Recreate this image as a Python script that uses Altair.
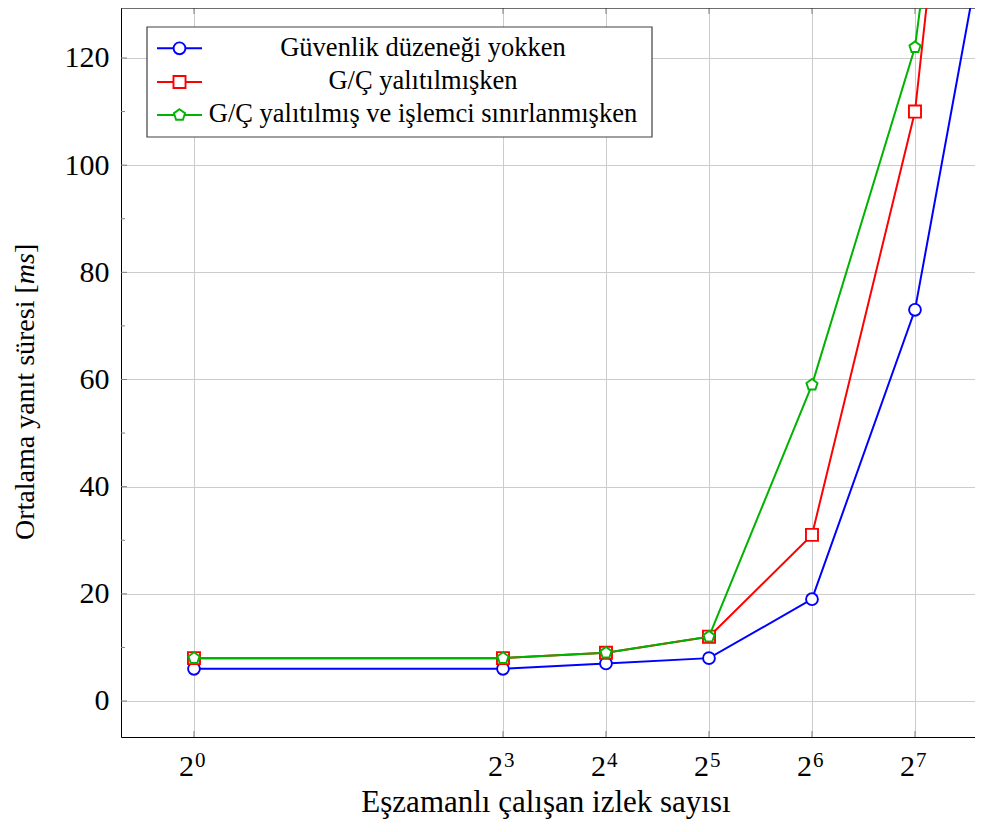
import altair as alt
import pandas as pd

# ---------------- data ----------------
threads = [1, 8, 16, 32, 64, 128, 256]
no_security = [6, 6, 7, 8, 19, 73, 178]
io_isolated = [8, 8, 9, 12, 31, 110, 285]
io_cpu_limited = [8, 8, 9, 12, 59, 122, 270]
series_names = [
    "Güvenlik düzeneği yokken",
    "G/Ç yalıtılmışken",
    "G/Ç yalıtılmış ve işlemci sınırlanmışken",
]
series_values = [no_security, io_isolated, io_cpu_limited]
series_colors = ["#0000ff", "#ff0000", "#00b300"]
x_tick_values = [1, 8, 16, 32, 64, 128]
x_tick_exponents = ["0", "3", "4", "5", "6", "7"]
y_major = [0, 20, 40, 60, 80, 100, 120]
y_minor = [10, 30, 50, 70, 90, 110]
x_title = "Eşzamanlı çalışan izlek sayısı"
y_title_parts = ["Ortalama yanıt süresi [", "ms", "]"]

PENTAGON = "M0,-1L0.951,-0.309L0.588,0.809L-0.588,0.809L-0.951,-0.309Z"
shapes = ["circle", "square", PENTAGON]
sizes = [140, 145, 135]

W, H = 854, 729
FONT = "Liberation Serif"

xscale = alt.Scale(type="log", base=2, domain=[0.6119, 191.7], nice=False)
yscale = alt.Scale(domain=[-6.72, 129.33], nice=False, zero=False)
xaxis = alt.Axis(values=x_tick_values, labels=False, ticks=False, tickSize=0,
                 grid=True, gridColor="#cccccc", gridWidth=1,
                 domain=True, domainColor="black", domainWidth=1, title=None)
yaxis = alt.Axis(values=y_major, ticks=False, tickSize=0, labelPadding=12,
                 labelFont=FONT, labelFontSize=30, labelColor="black",
                 grid=True, gridColor="#cccccc", gridWidth=1,
                 domain=True, domainColor="black", domainWidth=1, title=None)


def X(field):
    return alt.X(f"{field}:Q", scale=xscale, axis=xaxis)


def Y(field):
    return alt.Y(f"{field}:Q", scale=yscale, axis=yaxis)


layers = []

# inside ticks
xt = pd.DataFrame({"t": x_tick_values, "exp": x_tick_exponents})
layers.append(alt.Chart(xt).mark_rule(color="#808080", strokeWidth=1).encode(
    x=X("t"), y=alt.value(H), y2=alt.value(H - 6)))
layers.append(alt.Chart(xt).mark_rule(color="#808080", strokeWidth=1).encode(
    x=X("t"), y=alt.value(0), y2=alt.value(6)))
ymaj = pd.DataFrame({"v": y_major})
ymin = pd.DataFrame({"v": y_minor})
layers.append(alt.Chart(ymaj).mark_rule(color="#808080", strokeWidth=1).encode(
    y=Y("v"), x=alt.value(0), x2=alt.value(6)))
layers.append(alt.Chart(ymin).mark_rule(color="#808080", strokeWidth=1).encode(
    y=Y("v"), x=alt.value(0), x2=alt.value(4)))

# top border
layers.append(alt.Chart(pd.DataFrame({"a": [0]})).mark_rule(color="black", strokeWidth=1).encode(
    x=alt.value(0), x2=alt.value(W), y=alt.value(0)))

# series
for name, vals, col, shp, sz in zip(series_names, series_values, series_colors, shapes, sizes):
    d = pd.DataFrame({"threads": threads, "value": vals, "series": name})
    layers.append(alt.Chart(d).mark_line(color=col, strokeWidth=2, clip=True).encode(
        x=X("threads"), y=Y("value")))
    layers.append(alt.Chart(d).mark_point(shape=shp, size=sz, filled=False, fill="white",
                                          fillOpacity=1, color=col, strokeWidth=1.9,
                                          opacity=1, clip=True).encode(
        x=X("threads"), y=Y("value")))

# x tick labels (2^k)
layers.append(alt.Chart(xt).mark_text(text="2", font=FONT, fontSize=30, align="right",
                                      baseline="alphabetic", color="black").encode(
    x=X("t"), y=alt.value(H + 39)))
layers.append(alt.Chart(xt).mark_text(font=FONT, fontSize=21, align="left", dx=1,
                                      baseline="alphabetic", color="black").encode(
    x=X("t"), y=alt.value(H + 30), text="exp:N"))

# axis titles
layers.append(alt.Chart(pd.DataFrame({"s": [x_title]})).mark_text(
    font=FONT, fontSize=31, align="center", baseline="alphabetic", color="black").encode(
    x=alt.value(425), y=alt.value(804), text="s:N"))
ty = 532
styles = ["normal", "italic", "normal"]
widths = [9.137, 1.111, 0.333]
fs_y = 28
for part, st, wdt in zip(y_title_parts, styles, widths):
    layers.append(alt.Chart(pd.DataFrame({"s": [part]})).mark_text(
        font=FONT, fontSize=fs_y, fontStyle=st, angle=270, align="left",
        baseline="alphabetic", color="black").encode(
        x=alt.value(-87), y=alt.value(ty), text="s:N"))
    ty -= wdt * fs_y

# legend
layers.append(alt.Chart(pd.DataFrame({"a": [0]})).mark_rect(
    fill="white", stroke="#404040", strokeWidth=1.2).encode(
    x=alt.value(26), x2=alt.value(531), y=alt.value(19), y2=alt.value(129)))
row_c = [40.3, 74.0, 107.0]
row_b = [48.0, 81.0, 114.0]
for i, (name, col, shp, sz) in enumerate(zip(series_names, series_colors, shapes, sizes)):
    ld = pd.DataFrame({"label": [name]})
    layers.append(alt.Chart(ld).mark_rule(color=col, strokeWidth=2).encode(
        x=alt.value(36), x2=alt.value(81), y=alt.value(row_c[i])))
    layers.append(alt.Chart(ld).mark_point(shape=shp, size=sz, filled=False, fill="white",
                                           fillOpacity=1, color=col, strokeWidth=1.9,
                                           opacity=1).encode(
        x=alt.value(58.5), y=alt.value(row_c[i])))
    layers.append(alt.Chart(ld).mark_text(font=FONT, fontSize=26.5, align="center",
                                          baseline="alphabetic", color="black").encode(
        x=alt.value(302), y=alt.value(row_b[i]), text="label:N"))

chart = alt.layer(*layers).properties(
    width=W, height=H,
    autosize=alt.AutoSizeParams(type="none"),
    padding={"left": 113, "top": 0, "right": 0, "bottom": 84},
).configure_view(stroke=None).configure(font=FONT, background="white")

chart.save("out.html", embed_options={"renderer": "svg", "actions": False})
